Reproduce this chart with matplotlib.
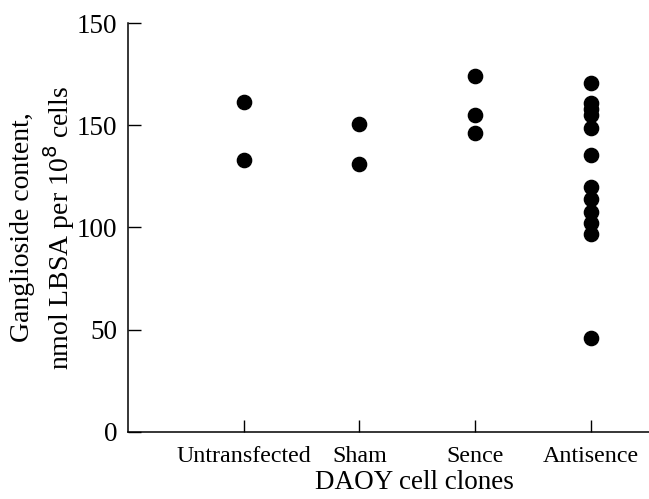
import matplotlib
matplotlib.use("Agg")
import matplotlib.pyplot as plt

# ganglioside content per clone group
groups = ["Untransfected", "Sham", "Sence", "Antisence"]
untransfected = [161.6, 133.0]
sham = [150.6, 131.1]
sence = [173.9, 154.9, 146.4]
antisence = [170.8, 160.9, 158.1, 155.2, 148.7, 135.3, 119.8, 113.7,
             107.6, 102.0, 96.6, 45.8]
yticks = [0, 50, 100, 150, 200]
ytick_labels = ["0", "50", "100", "150", "150"]  # top label printed as 150 in the original

plt.rcParams['font.family'] = ['Liberation Serif', 'DejaVu Serif']

fig = plt.figure(figsize=(6.49, 4.99), dpi=100)
ax = fig.add_axes([0.197, 0.1343, 0.803, 0.8196])

for i, vals in enumerate([untransfected, sham, sence, antisence]):
    ax.scatter([i + 1] * len(vals), vals, s=105, color='black', zorder=3,
               clip_on=False)

ax.set_xlim(0, 4.5)
ax.set_ylim(0, 200)
ax.set_xticks(range(1, len(groups) + 1))
ax.set_xticklabels(groups, fontsize=17.3)
ax.set_yticks(yticks)
ax.set_yticklabels(ytick_labels, fontsize=19.5)
ax.tick_params(direction='in', length=9, width=1)
ax.tick_params(axis='x', pad=10)
ax.tick_params(axis='y', pad=7.5)

for s in ['top', 'right']:
    ax.spines[s].set_visible(False)
for s in ['left', 'bottom']:
    ax.spines[s].set_linewidth(1.1)

# x label sits under the middle of the tick range, not the axes centre
ax.set_xlabel("DAOY cell clones", fontsize=19.5)
ax.xaxis.set_label_coords(0.549, -0.092, transform=ax.transAxes)
ax.xaxis.label.set_va('top')
ax.set_ylabel("Ganglioside content,\nnmol LBSA per 10$^8$ cells", fontsize=20,
              labelpad=0, linespacing=1.2)

fig.savefig("out.png", dpi=100)
